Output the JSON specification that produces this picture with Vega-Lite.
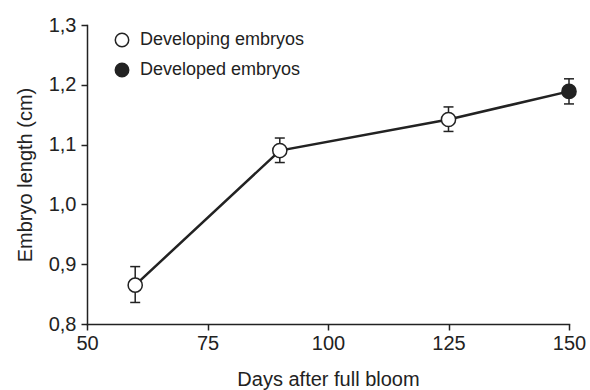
{
  "$schema": "https://vega.github.io/schema/vega-lite/v6.json",
  "width": 482,
  "height": 299,
  "autosize": "none",
  "padding": {"left": 87, "top": 25, "right": 21, "bottom": 66},
  "background": "white",
  "config": {
    "view": {"stroke": null},
    "font": "Liberation Sans",
    "axis": {
      "grid": false,
      "domainColor": "#222",
      "domainWidth": 1.5,
      "domainCap": "square",
      "tickColor": "#222",
      "tickWidth": 1.5,
      "tickSize": 6,
      "labelColor": "#222",
      "labelFontSize": 20,
      "titleColor": "#222",
      "titleFontSize": 20,
      "titleFontWeight": "normal",
      "labelFlush": false
    }
  },
  "data": {
    "values": [
      {"day": 60, "length": 0.865, "lo": 0.836, "hi": 0.896, "type": "Developing embryos"},
      {"day": 90, "length": 1.090, "lo": 1.070, "hi": 1.111, "type": "Developing embryos"},
      {"day": 125, "length": 1.142, "lo": 1.122, "hi": 1.163, "type": "Developing embryos"},
      {"day": 150, "length": 1.189, "lo": 1.168, "hi": 1.210, "type": "Developed embryos"}
    ]
  },
  "encoding": {
    "x": {
      "field": "day",
      "type": "quantitative",
      "scale": {"domain": [50, 150], "nice": false},
      "axis": {
        "values": [50, 75, 100, 125, 150],
        "title": "Days after full bloom",
        "labelPadding": 3,
        "titleY": 61,
        "titleBaseline": "alphabetic"
      }
    }
  },
  "layer": [
    {
      "mark": {"type": "line", "strokeWidth": 2.5, "color": "#222"},
      "encoding": {
        "y": {
          "field": "length",
          "type": "quantitative",
          "title": "Embryo length (cm)",
          "scale": {"domain": [0.8, 1.3], "nice": false, "zero": false},
          "axis": {
            "values": [0.8, 0.9, 1.0, 1.1, 1.2, 1.3],
            "labelExpr": "replace(format(datum.value, '.1f'), '.', ',')",
            "labelPadding": 5,
            "titleX": -56,
            "titleY": 149.5,
            "titleAngle": 270,
            "titleBaseline": "alphabetic",
            "titleAlign": "center"
          }
        }
      }
    },
    {
      "mark": {"type": "rule", "strokeWidth": 1.5, "color": "#222"},
      "encoding": {
        "y": {"field": "lo", "type": "quantitative", "title": "Embryo length (cm)", "scale": {"domain": [0.8, 1.3], "nice": false, "zero": false}},
        "y2": {"field": "hi"}
      }
    },
    {
      "mark": {"type": "tick", "orient": "horizontal", "size": 10, "thickness": 1.5, "color": "#222", "opacity": 1},
      "encoding": {
        "y": {"field": "lo", "type": "quantitative", "title": "Embryo length (cm)", "scale": {"domain": [0.8, 1.3], "nice": false, "zero": false}}
      }
    },
    {
      "mark": {"type": "tick", "orient": "horizontal", "size": 10, "thickness": 1.5, "color": "#222", "opacity": 1},
      "encoding": {
        "y": {"field": "hi", "type": "quantitative", "title": "Embryo length (cm)", "scale": {"domain": [0.8, 1.3], "nice": false, "zero": false}}
      }
    },
    {
      "mark": {"type": "point", "shape": "circle", "filled": true, "size": 200, "stroke": "#222", "strokeWidth": 1.5, "opacity": 1},
      "encoding": {
        "y": {"field": "length", "type": "quantitative", "title": "Embryo length (cm)", "scale": {"domain": [0.8, 1.3], "nice": false, "zero": false}},
        "fill": {
          "field": "type",
          "type": "nominal",
          "scale": {"domain": ["Developing embryos", "Developed embryos"], "range": ["white", "#222"]},
          "legend": {
            "orient": "none",
            "legendX": 26,
            "legendY": 6,
            "title": null,
            "padding": 0,
            "labelFontSize": 18,
            "labelLimit": 400,
            "labelColor": "#222",
            "labelOffset": 9,
            "symbolType": "circle",
            "symbolSize": 180,
            "symbolStrokeColor": "#222",
            "symbolStrokeWidth": 1.5,
            "symbolOpacity": 1,
            "rowPadding": 10
          }
        }
      }
    }
  ]
}
